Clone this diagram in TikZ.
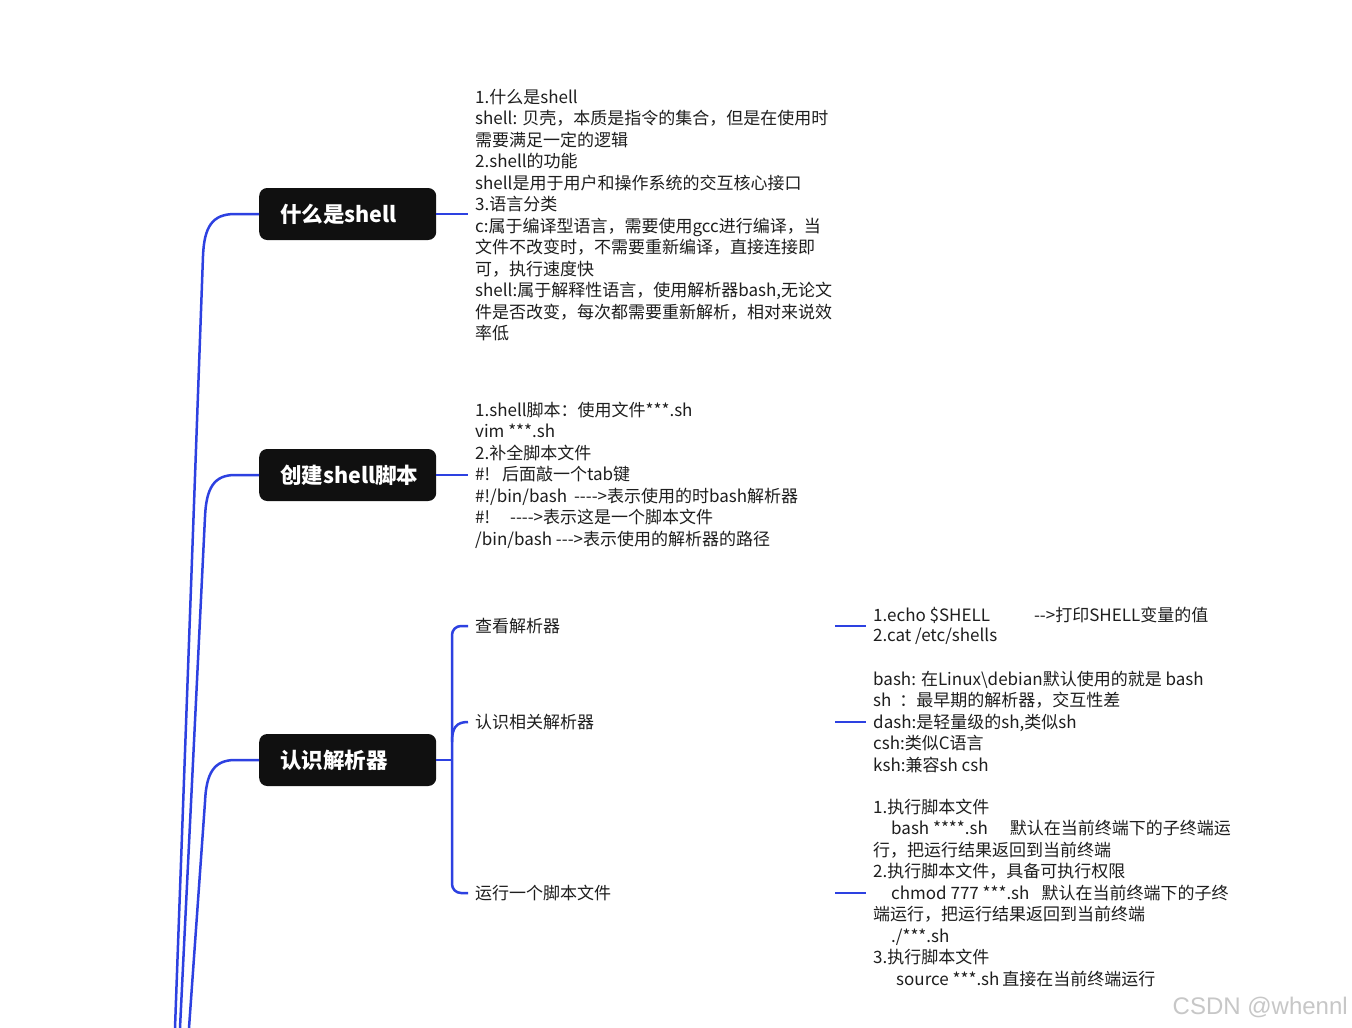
\documentclass[tikz,border=0pt]{standalone}
\usepackage{fontspec}
\setmainfont{Noto Sans CJK SC}
\newfontfamily\wmfont{Liberation Sans}
\usetikzlibrary{calc}
\definecolor{linkblue}{RGB}{45,65,225}
\definecolor{boxfill}{HTML}{101010}
\definecolor{txt}{HTML}{1E1E1E}
\newcommand\hy{-\kern0pt}
\begin{document}
\begin{tikzpicture}[x=1pt,y=-1pt,
  conn/.style={draw=linkblue, line width=2.5pt},
  topic/.style={fill=boxfill, rounded corners=8pt, text=white,
    font=\fontsize{21.5}{25}\selectfont\bfseries, minimum height=52pt,
    text width=135pt, inner xsep=21pt, inner ysep=0pt, align=left, anchor=west},
  note/.style={text=txt, font=\fontsize{17}{21.5}\selectfont, align=left,
    inner sep=0pt, anchor=west},
]
\useasboundingbox[fill=white] (0,0) rectangle (1352,1028);

% main topics
\node[topic] (n1) at (259,214) {什么是shell};
\node[topic] (n2) at (259,475) {创建shell脚本};
\node[topic] (n3) at (259,760) {认识解析器};

% notes
\node[note] (t1) at (475,215) {1.什么是shell\\
shell: 贝壳，本质是指令的集合，但是在使用时\\
需要满足一定的逻辑\\
2.shell的功能\\
shell是用于用户和操作系统的交互核心接口\\
3.语言分类\\
c:属于编译型语言，需要使用gcc进行编译，当\\
文件不改变时，不需要重新编译，直接连接即\\
可，执行速度快\\
shell:属于解释性语言，使用解析器bash,无论文\\
件是否改变，每次都需要重新解析，相对来说效\\
率低};

\node[note] (t2) at (475,475) {1.shell脚本：使用文件***.sh\\
vim ***.sh\\
2.补全脚本文件\\
\#!\hspace{12pt}后面敲一个tab键\\
\#!/bin/bash\hspace{7pt}\hy\hy\hy\hy>表示使用的时bash解析器\\
\#!\hspace{20pt}\hy\hy\hy\hy>表示这是一个脚本文件\\
/bin/bash \hy\hy\hy>表示使用的解析器的路径};

\node[note] (c1) at (475,626) {查看解析器};
\node[note] (c2) at (475,722) {认识相关解析器};
\node[note] (c3) at (475,893) {运行一个脚本文件};

\node[note, font=\fontsize{17}{20}\selectfont] (g1) at (873,626) {1.echo \$SHELL\hspace{44pt}\hy\hy>打印SHELL变量的值\\
2.cat /etc/shells};

\node[note] (g2) at (873,722) {bash:\hspace{5pt}在Linux\textbackslash debian默认使用的就是 bash\\
sh\hspace{8pt}：最早期的解析器，交互性差\\
dash:是轻量级的sh,类似sh\\
csh:类似C语言\\
ksh:兼容sh csh};

\node[note] (g3) at (873,893) {1.执行脚本文件\\
\hspace*{18pt}bash ****.sh\hspace{22pt}默认在当前终端下的子终端运\\
行，把运行结果返回到当前终端\\
2.执行脚本文件，具备可执行权限\\
\hspace*{18pt}chmod 777 ***.sh\hspace{12pt}默认在当前终端下的子终\\
端运行，把运行结果返回到当前终端\\
\hspace*{18pt}./***.sh\\
3.执行脚本文件\\
\hspace*{23pt}source ***.sh\hspace{3pt}直接在当前终端运行};

\node[anchor=base east, text=black!22, font=\wmfont\fontsize{24}{28}\selectfont, inner sep=0pt] (wm) at (1348,1014) {CSDN @whennl};

% helper coordinates
\coordinate (rA) at (175,1028);
\coordinate (rB) at (180,1028);
\coordinate (rC) at (189,1028);
\coordinate (t1in) at ([xshift=-7pt]t1.west);
\coordinate (t2in) at ([xshift=-7pt]t2.west);
\coordinate (c1in) at ([xshift=-7pt]c1.west);
\coordinate (c2in) at ([xshift=-7pt]c2.west);
\coordinate (c3in) at ([xshift=-7pt]c3.west);
\coordinate (g1in) at ([xshift=-7pt]g1.west);
\coordinate (g2in) at ([xshift=-7pt]g2.west);
\coordinate (g3in) at ([xshift=-7pt]g3.west);
\coordinate (c1out) at ([xshift=360pt]c1.west);
\coordinate (c2out) at ([xshift=360pt]c2.west);
\coordinate (c3out) at ([xshift=360pt]c3.west);
\coordinate (brk) at (452,760);

% root branches
\draw[conn] (rA) -- (203,256) .. controls (204.2,227) and (212,214) .. (235,214) -- (n1.west);
\draw[conn] (rB) -- (205,517) .. controls (206.2,488) and (214,475) .. (235,475) -- (n2.west);
\draw[conn] (rC) -- (205,802) .. controls (206.2,773) and (214,760) .. (235,760) -- (n3.west);

% topic to notes
\draw[conn] (n1.east) -- (n1.east -| t1in);
\draw[conn] (n2.east) -- (n2.east -| t2in);
\draw[conn] (n3.east) -- (brk);
\draw[conn, rounded corners=9pt] (c1in) -- (c1in -| brk) -- (c3in -| brk) -- (c3in);
\draw[conn] ([yshift=18pt]brk) .. controls ([yshift=32pt]brk) and ($(c2in -| brk)+(4,0)$) .. (c2in);

% children to notes
\draw[conn] (c1out) -- (c1out -| g1in);
\draw[conn] (c2out) -- (c2out -| g2in);
\draw[conn] (c3out) -- (c3out -| g3in);
\end{tikzpicture}
\end{document}
